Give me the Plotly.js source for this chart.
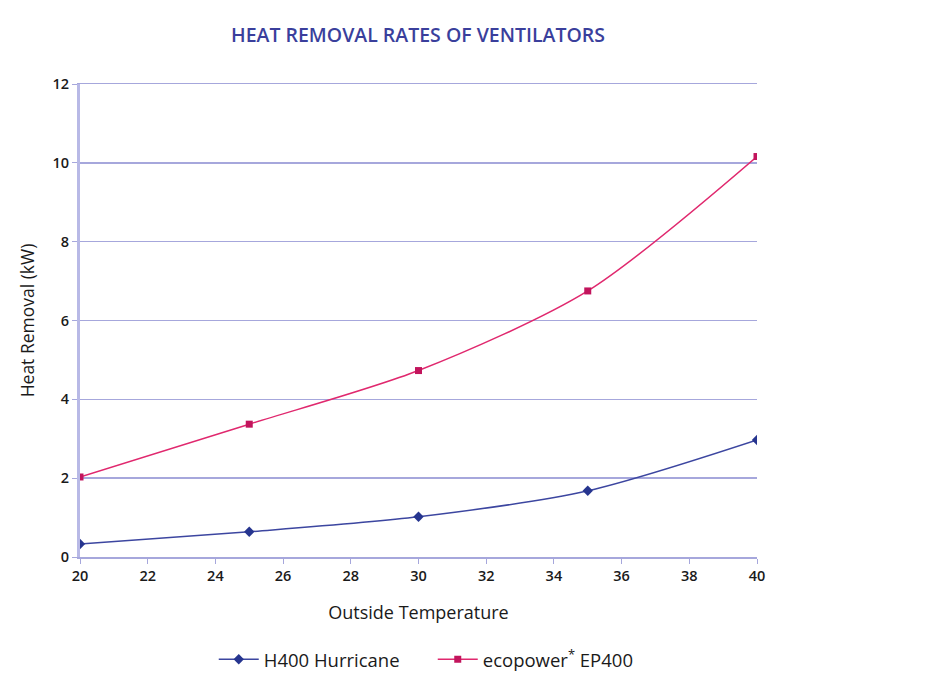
<!DOCTYPE html>
<html>
<head>
<meta charset="utf-8">
<script src="https://cdn.plot.ly/plotly-3.0.1.min.js"></script>
<style>html,body{margin:0;padding:0;background:#fff;}#chart{width:950px;height:683px;}</style>
</head>
<body>
<div id="chart"></div>
<script>
const temperatures = [20, 25, 30, 35, 40];
const h400 = [0.33, 0.64, 1.02, 1.68, 2.97];
const ep400 = [2.03, 3.37, 4.73, 6.75, 10.16];
const seriesNames = ["H400 Hurricane", "ecopower<sup>*</sup> EP400"];
const xTicks = [20, 22, 24, 26, 28, 30, 32, 34, 36, 38, 40];
const yTicks = [0, 2, 4, 6, 8, 10, 12];

const font = "Open Sans, Liberation Sans, sans-serif";
const grid = "#a6a7dc";

const traces = [
  {x: temperatures, y: h400, name: seriesNames[0], mode: "lines+markers",
   line: {color: "#3c46a0", width: 1.5, shape: "spline", smoothing: 0.8},
   marker: {symbol: "diamond", size: 8, color: "#26358f"}},
  {x: temperatures, y: ep400, name: seriesNames[1], mode: "lines+markers",
   line: {color: "#e0286e", width: 1.5, shape: "spline", smoothing: 0.8},
   marker: {symbol: "square", size: 7, color: "#c2145c"}}
];

const layout = {
  width: 950, height: 683,
  margin: {l: 80, r: 193, t: 84, b: 126, autoexpand: false},
  paper_bgcolor: "#fff", plot_bgcolor: "#fff",
  font: {family: font, color: "#1a1a1a", size: 14},
  title: {text: "HEAT REMOVAL RATES OF VENTILATORS", x: 0.44, xanchor: "center", y: 0.949, yanchor: "middle",
          font: {family: font, size: 19.5, weight: 600, color: "#3a3f9c"}},
  xaxis: {range: [20, 40], tickvals: xTicks, ticks: "outside", ticklen: 5, tickcolor: grid,
          showgrid: false, zeroline: false, showline: true, mirror: true, linecolor: grid, linewidth: 1.5,
          tickfont: {size: 14.5, color: "#1a1a1a", weight: 600},
          title: {text: "Outside Temperature", standoff: 22, font: {size: 18, color: "#1a1a1a"}}},
  yaxis: {range: [0, 12], tickvals: yTicks, ticks: "outside", ticklen: 5, tickcolor: grid,
          showgrid: true, gridcolor: grid, gridwidth: 1.5, zeroline: false,
          showline: true, linecolor: "#b8b9e6", linewidth: 3,
          tickfont: {size: 14.5, color: "#1a1a1a", weight: 600},
          title: {text: "Heat Removal (kW)", standoff: 14, font: {size: 17.5, color: "#1a1a1a"}}},
  legend: {orientation: "h", x: 0.225, xref: "container", xanchor: "left", y: 0.034, yref: "container", yanchor: "middle",
           font: {size: 18.5, color: "#1a1a1a"}, itemwidth: 40, entrywidth: 164, entrywidthmode: "pixels",
           traceorder: "normal"},
  showlegend: true
};

Plotly.newPlot("chart", traces, layout, {displayModeBar: false, staticPlot: true});
</script>
</body>
</html>
